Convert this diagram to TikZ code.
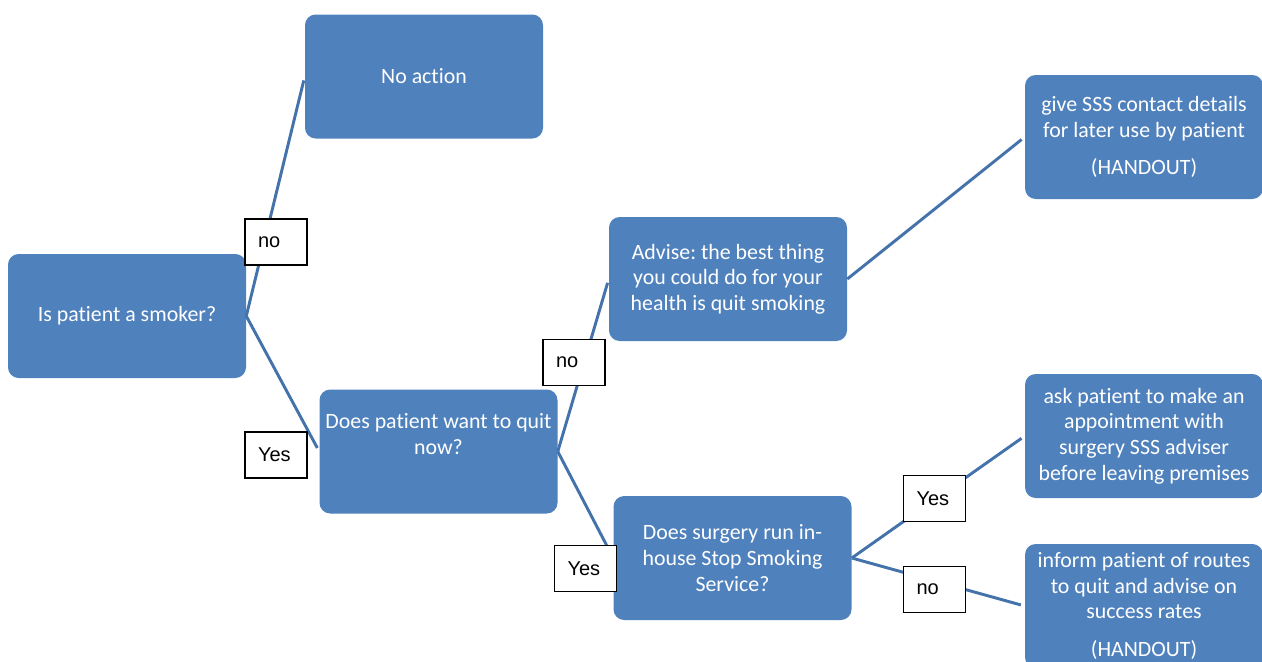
\documentclass[tikz,border=0pt]{standalone}
\usepackage{fontspec}
\setmainfont{Carlito}[Ligatures=NoCommon]
\newfontfamily\lblfont{Liberation Sans}
\frenchspacing
\usepackage{tikz}
\usetikzlibrary{positioning, calc}
\definecolor{boxblue}{HTML}{4F81BD}
\definecolor{lineblue}{RGB}{68,114,170}

\begin{document}
\begin{tikzpicture}[
    x=0.75pt, y=-0.75pt,
    box/.style={fill=boxblue, draw=none, rounded corners=8pt, text=white, align=center,
      minimum width=178.5pt, minimum height=93pt, inner sep=2pt,
      font=\fontsize{16.4}{19.2}\selectfont},
    lbl/.style={draw=black, line width=0.9pt, fill=white, minimum width=46.5pt, minimum height=34.5pt,
      inner xsep=9.75pt, text width=27pt, align=left, font=\lblfont\fontsize{15}{17}\selectfont},
    conn/.style={draw=lineblue, line width=2.2pt, shorten >=3pt}
  ]
  \useasboundingbox (0,0) rectangle (1262,661);
  \node[box] (smoker) at (127,316) {Is patient a smoker?};
  \node[box] (noact) at (424,76.5) {No action};
  \node[box] (quit) at (438.5,451.5) {Does patient want to quit\\now?\\[7pt]\mbox{}};
  \node[box] (advise) at (728,279) {Advise: the best thing\\you could do for your\\health is quit smoking};
  \node[box] (surgery) at (732.5,558) {Does surgery run in-\\house Stop Smoking\\Service?};
  \node[box] (give) at (1144,137) {give SSS contact details\\for later use by patient\\[9pt](HANDOUT)};
  \node[box] (ask) at (1144,436) {ask patient to make an\\appointment with\\surgery SSS adviser\\before leaving premises};
  \node[box] (inform) at (1144,606) {inform patient of routes\\to quit and advise on\\success rates\\[9pt](HANDOUT)};

  \draw[conn] (smoker.east) -- (noact.west);
  \draw[conn] (smoker.east) -- (quit.west);
  \draw[conn] (quit.east) -- (advise.west);
  \draw[conn] (quit.east) -- (surgery.west);
  \draw[conn] (advise.east) -- (give.west);
  \draw[conn] (surgery.east) -- (ask.west);
  \draw[conn] (surgery.east) -- (inform.west);

  \node[lbl] (nosmoker) at (276,242) {no};
  \node[lbl] (yessmoker) at (276,455) {Yes};
  \node[lbl] (noquit) at (574,362.5) {no};
  \node[lbl] (yesquit) at (585.5,568.5) {Yes};
  \node[lbl] (yessss) at (934.5,498.5) {Yes};
  \node[lbl] (nosss) at (934.5,589.5) {no};
\end{tikzpicture}
\end{document}
